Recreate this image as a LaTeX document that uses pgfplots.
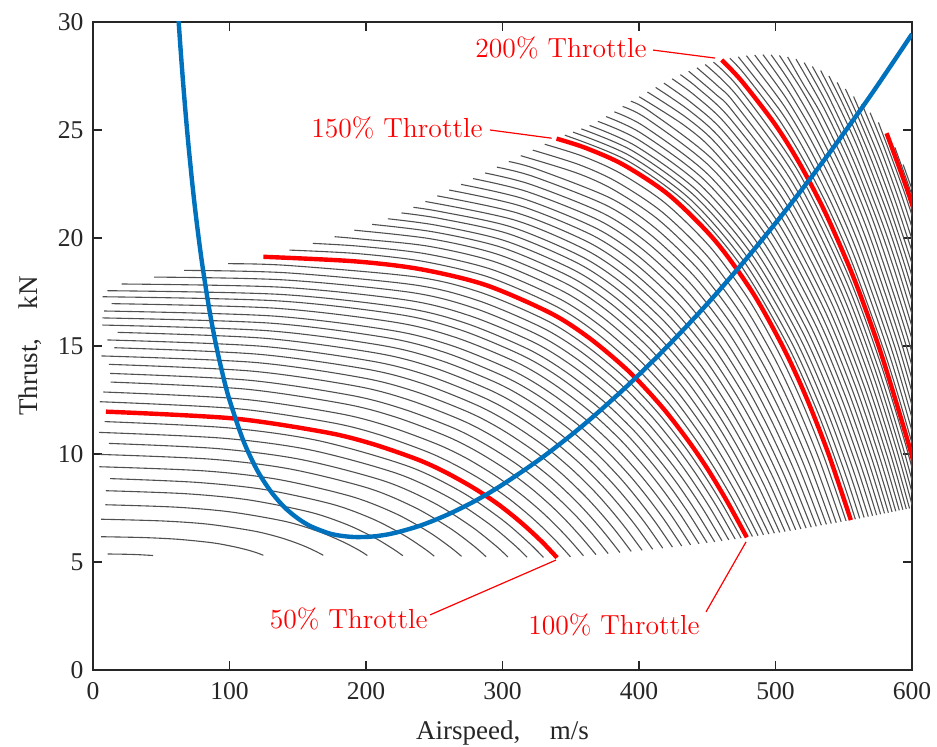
\documentclass[border=0pt]{standalone}
\usepackage{fontspec}
\usepackage{pgfplots}
\pgfplotsset{compat=1.18}
\newfontfamily\timesfont{Liberation Serif}
\definecolor{axgray}{RGB}{38,38,38}
\definecolor{gline}{RGB}{80,80,80}
\definecolor{matblue}{RGB}{0,114,189}
\definecolor{thred}{RGB}{255,0,0}
\pgfplotsset{
  gc/.style={smooth, line width=0.55pt, color=gline},
  rc/.style={smooth, line width=2.2pt, color=thred},
}
\begin{document}
\begin{tikzpicture}
\useasboundingbox (-46.5pt,-38.5pt) rectangle (422pt,335pt);
\begin{axis}[
  scale only axis, width=409.5pt, height=324pt,
  xmin=0, xmax=600, ymin=0, ymax=30,
  xtick={0,100,...,600}, ytick={0,5,...,30},
  tick align=inside, xtick pos=both, ytick pos=both,
  major tick length=4.5pt,
  axis line style={line width=0.8pt, color=axgray},
  every tick/.style={line width=0.8pt, color=axgray},
  /pgf/number format/assume math mode=true,
  tick label style={font=\timesfont\fontsize{12.8}{15}\selectfont, text=axgray},
  xticklabel style={yshift=-2.9pt},
  yticklabel style={xshift=-1.2pt},
  xlabel={Airspeed,\hspace{1.1em}m/s}, ylabel={Thrust,\hspace{1.1em}kN},
  label style={font=\timesfont\fontsize{13.5}{16}\selectfont, text=axgray},
  xlabel style={at={(axis description cs:0.5,-0.0972)}, anchor=center},
  ylabel style={at={(axis description cs:-0.0769,0.5)}, anchor=center},
  clip=true,
]
% thrust family (gray)
\addplot[gc] coordinates {(10.8,5.37) (22,5.36) (33,5.34) (44,5.30)};
\addplot[gc] coordinates {(5.9,6.17) (37.4,6.13) (62.4,6.05) (87.4,5.89) (102.3,5.72) (113.6,5.55) (121.1,5.40) (124.8,5.31)};
\addplot[gc] coordinates {(5.9,6.98) (50.6,6.90) (84.4,6.75) (118.1,6.43) (138.3,6.11) (153.5,5.77) (163.6,5.48) (168.7,5.31)};
\addplot[gc] coordinates {(9.0,7.65) (60.3,7.54) (100.5,7.32) (140.7,6.88) (164.8,6.42) (182.9,5.94) (195.0,5.54) (201,5.30)};
\addplot[gc] coordinates {(9.5,8.30) (68.1,8.16) (113.5,7.88) (158.9,7.31) (186.1,6.73) (206.6,6.11) (220.2,5.59) (227,5.29)};
\addplot[gc] coordinates {(12.5,8.86) (75,8.69) (125,8.36) (175,7.68) (205,6.99) (227.5,6.25) (242.5,5.63) (250,5.27)};
\addplot[gc] coordinates {(4.6,9.41) (81,9.22) (135,8.83) (189,8.04) (221.4,7.25) (245.7,6.40) (261.9,5.68) (270,5.26)};
\addplot[gc] coordinates {(5.1,9.98) (86.4,9.76) (144,9.31) (201.6,8.42) (236.2,7.51) (262.1,6.54) (279.4,5.72) (288,5.24)};
\addplot[gc] coordinates {(11.7,10.49) (91.2,10.25) (152,9.75) (212.8,8.76) (249.3,7.75) (276.6,6.67) (294.9,5.76) (304,5.23)};
\addplot[gc] coordinates {(4.4,11.00) (95.4,10.73) (159,10.19) (222.6,9.10) (260.8,7.99) (289.4,6.80) (308.5,5.80) (318,5.22)};
\addplot[gc] coordinates {(8.5,11.50) (99,11.21) (165,10.62) (231,9.43) (270.6,8.22) (300.3,6.93) (320.1,5.84) (330,5.21)};
\addplot[gc] coordinates {(5.1,12.42) (104.9,12.10) (174.9,11.45) (209.9,10.89) (244.9,10.10) (265.8,9.48) (286.8,8.72) (304.3,7.95) (318.3,7.23) (328.8,6.63) (339.3,5.97) (349.8,5.24)};
\addplot[gc] coordinates {(7.6,12.87) (107.8,12.55) (179.7,11.88) (215.6,11.30) (251.5,10.47) (273.1,9.82) (294.6,9.00) (312.6,8.18) (327.0,7.42) (337.7,6.78) (348.5,6.07) (359.3,5.29)};
\addplot[gc] coordinates {(12.9,13.33) (110.6,13.01) (184.3,12.32) (221.1,11.72) (258.0,10.85) (280.1,10.16) (302.2,9.30) (320.6,8.43) (335.3,7.62) (346.4,6.93) (357.4,6.17) (368.5,5.34)};
\addplot[gc] coordinates {(12.5,13.73) (113.2,13.42) (188.7,12.72) (226.4,12.10) (264.2,11.20) (286.8,10.47) (309.5,9.57) (328.3,8.65) (343.4,7.79) (354.8,7.07) (366.1,6.27) (377.4,5.39)};
\addplot[gc] coordinates {(11.7,14.15) (115.8,13.84) (193.0,13.14) (231.6,12.50) (270.2,11.56) (293.4,10.80) (316.5,9.85) (335.8,8.89) (351.3,7.98) (362.8,7.22) (374.4,6.37) (386.0,5.44)};
\addplot[gc] coordinates {(6.1,14.54) (118.3,14.24) (197.2,13.53) (236.6,12.88) (276.0,11.91) (299.7,11.12) (323.3,10.13) (343.0,9.11) (358.8,8.16) (370.6,7.36) (382.5,6.47) (394.3,5.49)};
\addplot[gc] coordinates {(15.6,14.92) (120.7,14.62) (201.2,13.92) (241.4,13.26) (281.6,12.25) (305.7,11.43) (329.9,10.40) (350.0,9.34) (366.1,8.35) (378.2,7.50) (390.2,6.57) (402.3,5.54)};
\addplot[gc] coordinates {(10.5,15.28) (123.0,14.99) (205.0,14.29) (246.0,13.62) (287.0,12.59) (311.6,11.74) (336.2,10.66) (356.7,9.56) (373.1,8.52) (385.4,7.64) (397.7,6.67) (410.0,5.59)};
\addplot[gc] coordinates {(18.1,15.63) (125.2,15.36) (208.7,14.66) (250.4,13.98) (292.2,12.92) (317.2,12.04) (342.3,10.92) (363.1,9.78) (379.8,8.70) (392.4,7.78) (404.9,6.77) (417.4,5.64)};
\addplot[gc] coordinates {(6.8,15.97) (127.4,15.71) (212.3,15.02) (254.7,14.33) (297.2,13.25) (322.6,12.34) (348.1,11.19) (369.3,10.00) (386.3,8.88) (399.0,7.92) (411.8,6.86) (424.5,5.69)};
\addplot[gc] coordinates {(6.8,16.30) (129.4,16.06) (215.7,15.38) (258.8,14.68) (301.9,13.57) (327.8,12.64) (353.7,11.44) (375.2,10.21) (392.5,9.05) (405.4,8.06) (418.4,6.96) (431.3,5.74)};
\addplot[gc] coordinates {(8.1,16.62) (131.3,16.39) (218.9,15.72) (262.7,15.02) (306.5,13.89) (332.7,12.93) (359.0,11.70) (380.9,10.43) (398.4,9.22) (411.5,8.20) (424.7,7.06) (437.8,5.79)};
\addplot[gc] coordinates {(13.7,16.96) (133.2,16.75) (222.0,16.09) (266.4,15.38) (310.8,14.23) (337.4,13.24) (364.1,11.97) (386.3,10.66) (404.0,9.41) (417.4,8.34) (430.7,7.16) (444.0,5.84)};
\addplot[gc] coordinates {(7.1,17.28) (135.0,17.09) (225.0,16.45) (269.9,15.73) (314.9,14.55) (341.9,13.54) (368.9,12.23) (391.4,10.88) (409.4,9.58) (422.9,8.48) (436.4,7.25) (449.9,5.89)};
\addplot[gc] coordinates {(10.5,17.56) (136.7,17.39) (227.8,16.77) (273.3,16.05) (318.9,14.85) (346.2,13.81) (373.5,12.47) (396.3,11.08) (414.5,9.74) (428.2,8.61) (441.8,7.34) (455.5,5.93)};
\addplot[gc] coordinates {(21.0,17.87) (138.2,17.72) (230.4,17.12) (276.5,16.39) (322.6,15.18) (350.2,14.12) (377.9,12.74) (400.9,11.30) (419.3,9.92) (433.2,8.75) (447.0,7.44) (460.8,5.98)};
\addplot[gc] coordinates {(44.8,18.19) (139.7,18.06) (232.9,17.48) (279.5,16.75) (326.1,15.51) (354.0,14.42) (382.0,13.00) (405.2,11.52) (423.9,10.10) (437.9,8.88) (451.8,7.53) (465.8,6.02)};
\addplot[gc] coordinates {(66.7,18.50) (141.2,18.39) (235.3,17.83) (282.3,17.10) (329.4,15.84) (357.6,14.73) (385.8,13.27) (409.3,11.74) (428.2,10.27) (442.3,9.02) (456.4,7.62) (470.5,6.06)};
\addplot[gc] coordinates {(99,18.81) (142.5,18.73) (237.5,18.19) (284.9,17.46) (332.4,16.18) (360.9,15.03) (389.4,13.54) (413.2,11.96) (432.2,10.45) (446.4,9.16) (460.7,7.71) (474.9,6.10)};
\addplot[gc] coordinates {(143.8,19.44) (193.2,19.28) (241.6,18.92) (289.9,18.19) (338.2,16.87) (367.2,15.68) (396.1,14.11) (420.3,12.45) (439.6,10.84) (454.1,9.46) (468.6,7.91) (483.1,6.18)};
\addplot[gc] coordinates {(161.0,19.75) (194.9,19.62) (243.6,19.27) (292.3,18.54) (341.0,17.21) (370.3,16.00) (399.5,14.40) (423.9,12.70) (443.4,11.04) (458.0,9.62) (472.6,8.02) (487.2,6.22)};
\addplot[gc] coordinates {(177.0,20.06) (196.5,19.95) (245.6,19.62) (294.7,18.89) (343.8,17.55) (373.3,16.33) (402.8,14.70) (427.3,12.95) (447.0,11.25) (461.7,9.78) (476.5,8.12) (491.2,6.26)};
\addplot[gc] coordinates {(191.5,20.36) (247.6,19.96) (297.1,19.23) (346.6,17.89) (376.4,16.65) (406.1,14.99) (430.8,13.20) (450.6,11.45) (465.5,9.94) (480.3,8.22) (495.2,6.29)};
\addplot[gc] coordinates {(204.5,20.63) (249.6,20.28) (299.5,19.56) (349.4,18.21) (379.4,16.96) (409.3,15.27) (434.3,13.44) (454.3,11.65) (469.2,10.10) (484.2,8.33) (499.2,6.33)};
\addplot[gc] coordinates {(216.0,20.89) (251.6,20.59) (301.9,19.87) (352.2,18.52) (382.4,17.26) (412.5,15.54) (437.7,13.68) (457.8,11.85) (472.9,10.25) (488.0,8.43) (503.1,6.37)};
\addplot[gc] coordinates {(226.0,21.16) (253.5,20.91) (304.2,20.20) (354.9,18.84) (385.3,17.57) (415.7,15.83) (441.1,13.93) (461.4,12.05) (476.6,10.41) (491.8,8.54) (507.0,6.41)};
\addplot[gc] coordinates {(234.7,21.42) (255.5,21.21) (306.5,20.51) (357.6,19.15) (388.3,17.87) (418.9,16.11) (444.5,14.17) (464.9,12.25) (480.2,10.57) (495.6,8.64) (510.9,6.45)};
\addplot[gc] coordinates {(243.5,21.69) (308.9,20.83) (360.4,19.47) (391.2,18.18) (422.1,16.39) (447.9,14.42) (468.5,12.46) (483.9,10.73) (499.4,8.75) (514.8,6.49)};
\addplot[gc] coordinates {(252.2,21.95) (311.2,21.15) (363.0,19.80) (394.1,18.49) (425.3,16.68) (451.2,14.67) (471.9,12.67) (487.5,10.90) (503.0,8.86) (518.6,6.53)};
\addplot[gc] coordinates {(260.9,22.22) (313.4,21.48) (365.7,20.13) (397.0,18.82) (428.4,16.98) (454.5,14.93) (475.4,12.88) (491.1,11.06) (506.7,8.97) (522.4,6.57)};
\addplot[gc] coordinates {(269.7,22.48) (315.7,21.81) (368.3,20.46) (399.9,19.14) (431.5,17.27) (457.8,15.19) (478.8,13.10) (494.6,11.23) (510.4,9.08) (526.2,6.61)};
\addplot[gc] coordinates {(278.4,22.75) (317.9,22.15) (370.9,20.81) (402.7,19.47) (434.5,17.59) (461.0,15.46) (482.2,13.32) (498.1,11.41) (514.0,9.20) (529.9,6.65)};
\addplot[gc] coordinates {(287.2,23.01) (320.2,22.49) (373.5,21.15) (405.5,19.81) (437.6,17.90) (464.2,15.74) (485.6,13.54) (501.6,11.59) (517.6,9.32) (533.6,6.70)};
\addplot[gc] coordinates {(295.9,23.28) (322.4,22.85) (376.1,21.51) (408.3,20.16) (440.6,18.22) (467.5,16.02) (488.9,13.78) (505.1,11.77) (521.2,9.44) (537.3,6.74)};
\addplot[gc] coordinates {(304.6,23.54) (324.5,23.20) (378.6,21.86) (411.1,20.50) (443.5,18.54) (470.6,16.30) (492.2,14.01) (508.4,11.95) (524.7,9.56) (540.9,6.78)};
\addplot[gc] coordinates {(313.4,23.81) (353.9,23.02) (381.2,22.24) (413.8,20.87) (446.5,18.87) (473.7,16.59) (495.5,14.25) (511.8,12.14) (528.2,9.68) (544.5,6.82)};
\addplot[gc] coordinates {(322.1,24.07) (356.3,23.39) (383.7,22.60) (416.6,21.22) (449.4,19.21) (476.8,16.88) (498.8,14.49) (515.2,12.32) (531.7,9.80) (548.1,6.86)};
\addplot[gc] coordinates {(330.9,24.34) (358.6,23.79) (386.2,23.00) (419.3,21.61) (452.4,19.56) (480.0,17.19) (502.0,14.74) (518.6,12.52) (535.1,9.93) (551.7,6.90)};
\addplot[gc] coordinates {(345.65,24.76) (390.95,23.60) (435.6,21.58) (474.7,18.72) (508.2,15.12) (530.6,11.97) (547.3,9.13) (558.5,6.98)};
\addplot[gc] coordinates {(351.7,24.90) (393.2,23.81) (438.1,21.76) (477.4,18.87) (511.1,15.24) (533.6,12.06) (550.5,9.19) (561.7,7.02)};
\addplot[gc] coordinates {(357.75,25.05) (395.4,24.03) (440.6,21.96) (480.2,19.04) (514.1,15.37) (536.7,12.15) (553.6,9.26) (564.9,7.06)};
\addplot[gc] coordinates {(363.8,25.21) (397.6,24.26) (443.0,22.17) (482.8,19.22) (516.9,15.50) (539.6,12.25) (556.6,9.32) (568.0,7.10)};
\addplot[gc] coordinates {(369.85,25.40) (399.8,24.54) (445.5,22.42) (485.4,19.42) (519.7,15.66) (542.5,12.36) (559.7,9.39) (571.1,7.14)};
\addplot[gc] coordinates {(375.9,25.62) (401.9,24.84) (447.8,22.69) (488.0,19.65) (522.4,15.83) (545.4,12.48) (562.6,9.46) (574.1,7.17)};
\addplot[gc] coordinates {(381.95,25.84) (403.9,25.16) (450.1,22.97) (490.5,19.88) (525.1,16.00) (548.2,12.60) (565.5,9.53) (577.0,7.21)};
\addplot[gc] coordinates {(388.0,26.09) (405.9,25.52) (452.3,23.29) (492.9,20.14) (527.7,16.19) (550.9,12.73) (568.3,9.61) (579.9,7.25)};
\addplot[gc] coordinates {(394.05,26.33) (407.9,25.86) (454.5,23.60) (495.3,20.40) (530.3,16.38) (553.6,12.86) (571.0,9.69) (582.7,7.28)};
\addplot[gc] coordinates {(400.1,26.54) (433.2,25.21) (456.6,23.90) (497.6,20.65) (532.7,16.57) (556.1,12.99) (573.7,9.76) (585.4,7.32)};
\addplot[gc] coordinates {(406.15,26.76) (435.2,25.55) (458.7,24.22) (499.9,20.91) (535.2,16.76) (558.7,13.12) (576.3,9.84) (588.1,7.35)};
\addplot[gc] coordinates {(412.2,26.97) (437.1,25.89) (460.7,24.54) (502.1,21.18) (537.5,16.95) (561.2,13.25) (578.9,9.92) (590.7,7.39)};
\addplot[gc] coordinates {(418.25,27.17) (439.0,26.23) (462.8,24.86) (504.3,21.44) (539.9,17.15) (563.6,13.38) (581.4,9.99) (593.3,7.42)};
\addplot[gc] coordinates {(424.3,27.37) (440.9,26.60) (464.7,25.20) (506.4,21.72) (542.2,17.35) (566.0,13.52) (583.9,10.07) (595.8,7.45)};
\addplot[gc] coordinates {(430.35,27.56) (442.7,26.96) (466.6,25.54) (508.5,22.00) (544.4,17.55) (568.3,13.66) (586.2,10.14) (598.2,7.48)};
\addplot[gc] coordinates {(436.4,27.72) (456.5,26.64) (468.5,25.88) (510.5,22.28) (546.5,17.76) (570.6,13.80) (588.6,10.23) (600.6,7.52)};
\addplot[gc] coordinates {(442.45,27.88) (458.2,27.01) (470.3,26.22) (512.5,22.56) (548.6,17.96) (572.8,13.93) (590.8,10.30) (602.9,7.55)};
\addplot[gc] coordinates {(448.5,28.03) (472.0,26.57) (514.3,22.85) (550.6,18.17) (574.8,14.07) (593.0,10.38) (605.1,7.58)};
\addplot[gc] coordinates {(454.55,28.14) (473.7,26.91) (516.2,23.13) (552.6,18.37) (576.9,14.21) (595.2,10.46) (607.3,7.61)};
\addplot[gc] coordinates {(466.6,28.32) (477.1,27.60) (501.6,25.57) (519.9,23.69) (538.3,21.45) (556.6,18.78) (581.1,14.48) (599.5,10.61) (611.7,7.67)};
\addplot[gc] coordinates {(472.7,28.39) (503.5,25.89) (521.9,23.98) (540.3,21.70) (558.7,19.00) (583.3,14.62) (601.7,10.68) (614.0,7.70)};
\addplot[gc] coordinates {(478.7,28.44) (505.4,26.20) (523.9,24.26) (542.3,21.95) (560.8,19.20) (585.5,14.76) (604.0,10.76) (616.3,7.73)};
\addplot[gc] coordinates {(484.8,28.47) (507.3,26.52) (525.8,24.55) (544.4,22.20) (562.9,19.41) (587.7,14.90) (606.2,10.84)};
\addplot[gc] coordinates {(490.8,28.49) (509.1,26.85) (527.8,24.85) (546.4,22.46) (565.0,19.63) (589.9,15.05) (608.5,10.93)};
\addplot[gc] coordinates {(496.8,28.48) (511.0,27.17) (529.7,25.13) (548.4,22.71) (567.1,19.83) (592.0,15.19) (610.7,11.00)};
\addplot[gc] coordinates {(502.9,28.45) (519.2,26.85) (531.7,25.43) (550.4,22.97) (569.2,20.05) (594.2,15.33) (613.0,11.08)};
\addplot[gc] coordinates {(508.9,28.38) (520.1,27.15) (533.6,25.71) (552.5,23.21) (571.3,20.25) (596.4,15.47) (615.2,11.16)};
\addplot[gc] coordinates {(515.0,28.28) (535.6,25.99) (554.5,23.46) (573.4,20.46) (598.6,15.61) (617.5,11.24)};
\addplot[gc] coordinates {(521.0,28.12) (537.5,26.24) (556.5,23.68) (575.5,20.64) (588.1,18.32) (600.8,15.73)};
\addplot[gc] coordinates {(527.0,27.94) (539.5,26.47) (558.5,23.88) (577.6,20.81) (590.3,18.46) (603.0,15.85)};
\addplot[gc] coordinates {(533.1,27.75) (547.8,25.92) (560.6,24.13) (579.7,21.02) (592.4,18.64) (605.2,15.99)};
\addplot[gc] coordinates {(539.1,27.50) (549.8,26.14) (562.6,24.32) (581.8,21.18) (594.5,18.78) (607.3,16.10)};
\addplot[gc] coordinates {(545.2,27.20) (558.2,25.44) (571.0,23.50) (583.9,21.33) (596.7,18.91) (609.5,16.21)};
\addplot[gc] coordinates {(551.2,26.90) (560.2,25.65) (573.1,23.69) (585.9,21.50) (598.8,19.05) (611.7,16.33)};
\addplot[gc] coordinates {(557.2,26.55) (575.1,23.87) (588.0,21.66) (601.0,19.19)};
\addplot[gc] coordinates {(563.3,26.20) (577.2,24.07) (590.1,21.83) (603.1,19.34)};
\addplot[gc] coordinates {(569.3,25.80) (579.2,24.25) (592.2,21.99) (605.2,19.47)};
\addplot[gc] coordinates {(575.4,25.35) (594.3,22.13) (607.4,19.59)};
\addplot[gc] coordinates {(587.4,24.20) (598.5,22.25) (611.7,19.71)};
\addplot[gc] coordinates {(593.5,23.40) (600.6,22.15)};
% highlighted throttle settings
\addplot[rc] coordinates {(9.5,11.96) (102,11.65) (170,11.01) (204,10.48) (238,9.74) (258.4,9.15) (278.8,8.43) (295.8,7.72) (309.4,7.05) (319.6,6.49) (329.8,5.88) (340,5.20)};
\addplot[rc] coordinates {(124.8,19.13) (191.6,18.92) (239.5,18.56) (287.4,17.83) (335.3,16.52) (364.0,15.35) (392.8,13.81) (416.7,12.19) (435.9,10.63) (450.3,9.30) (464.6,7.80) (479.0,6.14)};
\addplot[rc] coordinates {(339.6,24.60) (360.9,24.17) (388.6,23.39) (421.95,21.99) (455.3,19.91) (483.0,17.50) (505.2,14.99) (521.9,12.72) (538.5,10.06) (555.2,6.94)};
\addplot[rc] coordinates {(460.6,28.24) (475.3,27.26) (499.7,25.26) (518.0,23.41) (536.3,21.20) (554.6,18.58) (566.7,16.58) (578.9,14.35) (597.2,10.53) (609.4,7.64)};
\addplot[rc] coordinates {(581.4,24.85) (596.4,22.25) (609.5,19.70)};
% required thrust
\addplot[smooth, line width=2.2pt, color=matblue] coordinates {
  (62,30.73) (64,28.88) (66,27.20) (68,25.66) (70,24.26) (73,22.37) (76,20.71)
  (80,18.79) (85,16.77) (90,15.09) (95,13.69) (100,12.50) (110,10.64) (120,9.28)
  (130,8.29) (140,7.55) (150,7.02) (160,6.64) (175,6.29) (190,6.16) (205,6.18)
  (220,6.33) (240,6.69) (260,7.20) (280,7.83) (300,8.58) (330,9.88) (360,11.38)
  (390,13.07) (420,14.93) (450,16.95) (480,19.14) (510,21.48) (540,23.98)
  (570,26.63) (600,29.44)};
% labels
\begin{scope}[thred, line width=0.6pt]
\draw (axis cs:410.3,28.70) -- (axis cs:455.7,28.33);
\draw (axis cs:290.8,25.00) -- (axis cs:336.0,24.62);
\draw (axis cs:246.9,2.55) -- (axis cs:339.2,5.09);
\draw (axis cs:449.1,2.69) -- (axis cs:478.4,5.93);
\end{scope}
\begin{scope}[every node/.style={text=thred, inner sep=0pt, font=\fontsize{13.8}{16}\selectfont}]
\node[anchor=east] at (axis cs:405.9,28.8) {200\% Throttle};
\node[anchor=east] at (axis cs:285.7,25.09) {150\% Throttle};
\node[anchor=east] at (axis cs:245.4,2.36) {50\% Throttle};
\node[anchor=east] at (axis cs:444.7,2.08) {100\% Throttle};
\end{scope}
\end{axis}
\end{tikzpicture}
\end{document}
